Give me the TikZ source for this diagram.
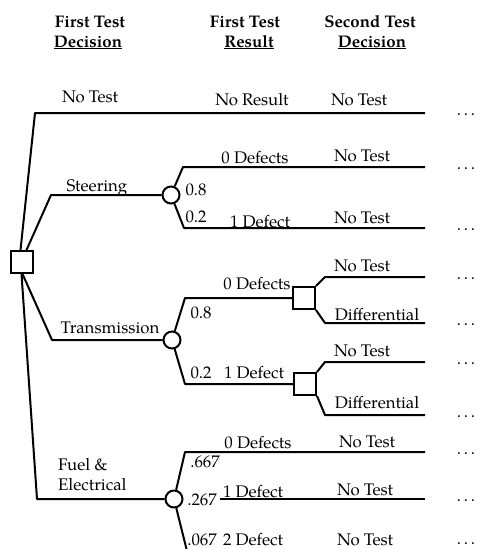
\documentclass[tikz,border=0pt]{standalone}
\usepackage{fontspec}
\setmainfont{TeX Gyre Pagella}
\begin{document}
\begin{tikzpicture}[x=1pt,y=-1pt,
  branch/.style={line width=2pt, line join=round},
  decision/.style={draw, rectangle, line width=2pt, minimum size=22pt, inner sep=0pt},
  chance/.style={draw, circle, line width=2pt, minimum size=17pt, inner sep=0pt},
  lbl/.style={font=\fontsize{16.8}{18}\selectfont, anchor=base, inner sep=0pt},
  head/.style={lbl, font=\fontsize{16.8}{18}\selectfont\bfseries},
  prob/.style={lbl, fill=white, inner xsep=3pt},
  more/.style={lbl}]
\useasboundingbox (0,0) rectangle (478,549);

% column headings
\node[head] (h1a) at (90,27) {First Test};
\node[head] (h1b) at (88,47) {\underline{Decision}};
\node[head] (h2a) at (245,27) {First Test};
\node[head] (h2b) at (249,47) {\underline{Result}};
\node[head] (h3a) at (370,27) {Second Test};
\node[head] (h3b) at (372,47) {\underline{Decision}};

% decision and chance nodes
\node[decision] (d0) at (21.5,262) {};
\node[chance] (c1) at (171,195) {};
\node[chance] (c2) at (172,340) {};
\node[chance] (c3) at (174,499) {};
\node[decision] (d1) at (304,298) {};
\node[decision] (d2) at (305,384) {};

% bends and branch ends
\coordinate (a0) at (35,113);  \coordinate (a0e) at (425,113);
\coordinate (s0) at (51,195);
\coordinate (t0) at (52,340);
\coordinate (f0) at (37,499);
\coordinate (s1) at (183,167); \coordinate (s1e) at (425,167);
\coordinate (s2) at (184,228); \coordinate (s2e) at (425,228);
\coordinate (t1) at (185,298);
\coordinate (t2) at (185,384);
\coordinate (u1) at (325,277); \coordinate (u1e) at (425,277);
\coordinate (u2) at (325,323); \coordinate (u2e) at (425,323);
\coordinate (v1) at (325,362); \coordinate (v1e) at (425,362);
\coordinate (v2) at (325,415); \coordinate (v2e) at (425,415);
\coordinate (f1) at (185,452); \coordinate (f1e) at (425,452);
\coordinate (f2e) at (425,499);
\coordinate (f3) at (187,551);

% first test decision
\draw[branch] ([xshift=-1pt]d0.north) -- (a0) -- (a0e);
\draw[branch] ([xshift=5pt]d0.north) -- (s0) -- (c1);
\draw[branch] ([xshift=1pt]d0.south) -- (t0) -- (c2);
\draw[branch] (d0.south) -- (f0) -- (c3);

% steering
\draw[branch] (c1) -- (s1) -- (s1e);
\draw[branch] (c1) -- (s2) -- (s2e);

% transmission
\draw[branch] (c2) -- (t1) -- (d1.west);
\draw[branch] (c2) -- (t2) -- (d2.west);
\draw[branch] (d1.north east) -- (u1) -- (u1e);
\draw[branch] (d1.south east) -- (u2) -- (u2e);
\draw[branch] (d2.north east) -- (v1) -- (v1e);
\draw[branch] (d2.south east) -- (v2) -- (v2e);

% fuel & electrical
\draw[branch] (c3) -- (f1) -- (f1e);
\draw[branch] (c3) -- (f2e);
\draw[branch] (c3) -- (f3);

% branch labels
\node[lbl] (l1) at (90,102) {No Test};
\node[lbl] (l2) at (252,105) {No Result};
\node[lbl] (l3) at (359,105) {No Test};

\node[lbl] (l4) at (97,191) {Steering};
\node[lbl] (p1) at (196,195) {0.8};
\node[lbl] (p2) at (196,222) {0.2};
\node[lbl] (l5) at (255,163) {0 Defects};
\node[lbl] (l6) at (260,227) {1 Defect};
\node[lbl] (l7) at (362,161) {No Test};
\node[lbl] (l8) at (362,223) {No Test};

\node[lbl] (l9) at (110,333) {Transmission};
\node[lbl] (p3) at (201,318) {0.8};
\node[lbl] (p4) at (201,378) {0.2};
\node[lbl] (l10) at (257,289) {0 Defects};
\node[lbl] (l11) at (254,378) {1 Defect};
\node[lbl] (l12) at (362,271) {No Test};
\node[lbl] (l13) at (377,320) {Differential};
\node[lbl] (l14) at (362,356) {No Test};
\node[lbl] (l15) at (377,408) {Differential};

\node[lbl, anchor=base west] (l16) at (58,470) {Fuel \&};
\node[lbl, anchor=base west] (l17) at (58,490) {Electrical};
\node[lbl] (p5) at (205,467) {.667};
\node[prob] (p6) at (202,505) {.267};
\node[lbl] (p7) at (202,545) {.067};
\node[lbl] (l18) at (258,448) {0 Defects};
\node[lbl] (l19) at (253,497) {1 Defect};
\node[lbl] (l20) at (253,545) {2 Defect};
\node[lbl] (l21) at (367,447) {No Test};
\node[lbl] (l22) at (365,495) {No Test};
\node[lbl] (l23) at (365,545) {No Test};

% continuation marks
\foreach \y/\n in {113/1,167/2,228/3,277/4,323/5,362/6,415/7,452/8,499/9,542/10}
  \node[more] (m\n) at (466,\y+2) {.\hspace{2.8pt}.\hspace{2.8pt}.};
\end{tikzpicture}
\end{document}
